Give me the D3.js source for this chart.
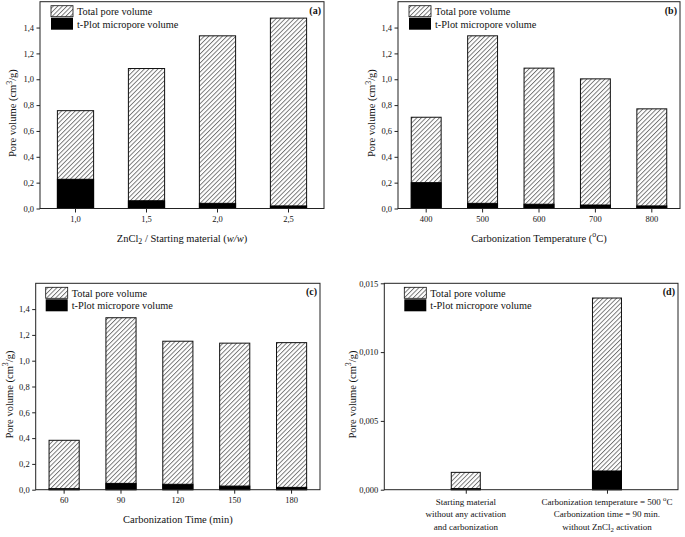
<!DOCTYPE html>
<html><head><meta charset="utf-8">
<script src="https://cdn.jsdelivr.net/npm/d3@7"></script>
<style>
body{margin:0;background:#fff;}
svg text{font-family:"Liberation Serif","Times New Roman",serif;fill:#111;}
</style></head>
<body>
<svg id="chart" width="685" height="537"></svg>
<script>
// ---------- DATA ----------
const seriesNames = ["Total pore volume", "t-Plot micropore volume"];

const catsA = ["1,0", "1,5", "2,0", "2,5"];
const totalA = [0.757, 1.083, 1.336, 1.473];
const microA = [0.226, 0.060, 0.040, 0.020];

const catsB = ["400", "500", "600", "700", "800"];
const totalB = [0.706, 1.336, 1.086, 1.003, 0.771];
const microB = [0.200, 0.040, 0.033, 0.027, 0.020];

const catsC = ["60", "90", "120", "150", "180"];
const totalC = [0.383, 1.333, 1.151, 1.136, 1.140];
const microC = [0.008, 0.049, 0.042, 0.028, 0.018];

const catsD = [
  ["Starting material", "without any activation", "and carbonization"],
  ["Carbonization temperature = 500 ^{o}C", "Carbonization time = 90 min.", "without ZnCl_{2} activation"]
];
const totalD = [0.00126, 0.01393];
const microD = [0.00008, 0.00136];

const yTicksMain = [0, 0.2, 0.4, 0.6, 0.8, 1.0, 1.2, 1.4];
const yTicksD = [0, 0.005, 0.010, 0.015];

const yTitle = "Pore volume (cm^{3}/g)";
const xTitleA = "ZnCl_{2} / Starting material (*{w/w})";
const xTitleB = "Carbonization Temperature (^{o}C)";
const xTitleC = "Carbonization Time (min)";

// ---------- RENDER ----------
const svg = d3.select("#chart");
const defs = svg.append("defs");
const pat = defs.append("pattern").attr("id", "hatch")
  .attr("patternUnits", "userSpaceOnUse").attr("width", 3.2).attr("height", 3.2)
  .attr("patternTransform", "rotate(45)");
pat.append("rect").attr("width", 3.2).attr("height", 3.2).attr("fill", "#fff");
pat.append("line").attr("x1", 0.5).attr("y1", 0).attr("x2", 0.5).attr("y2", 3.2)
  .attr("stroke", "#444").attr("stroke-width", 0.7);

// markup: ^{sup} _{sub} *{italic}
function richText(sel, str, size) {
  const re = /(\^\{[^}]*\}|_\{[^}]*\}|\*\{[^}]*\})/;
  const parts = str.split(re).filter(s => s.length);
  let shift = 0;
  parts.forEach(p => {
    const t = sel.append("tspan");
    let target = 0, txt = p, fs = size, it = false;
    if (p.startsWith("^{")) { txt = p.slice(2, -1); target = -size * 0.42; fs = size * 0.75; }
    else if (p.startsWith("_{")) { txt = p.slice(2, -1); target = size * 0.25; fs = size * 0.75; }
    else if (p.startsWith("*{")) { txt = p.slice(2, -1); it = true; }
    t.attr("dy", target - shift).attr("font-size", fs).text(txt);
    if (it) t.attr("font-style", "italic");
    shift = target;
  });
}

function panel(cfg) {
  const g = svg.append("g");
  const {x0, x1, y0, y1} = cfg.box;
  const y = d3.scaleLinear().domain(cfg.yDomain).range([y1, y0]);
  let xc, bw;
  if (cfg.band) {
    const x = d3.scaleBand().domain(d3.range(cfg.cats.length)).range([x0, x1])
      .paddingInner(cfg.pad).paddingOuter(cfg.pad / 2);
    xc = i => x(i) + x.bandwidth() / 2; bw = x.bandwidth();
    cfg.xScale = x;
  } else {
    const x = d3.scaleLinear().domain(cfg.xDomain).range([x0, x1]);
    xc = i => x(i); bw = cfg.barW;
    cfg.xScale = x;
  }
  // bars
  const idx = d3.range(cfg.cats.length);
  g.selectAll(".tot").data(idx).join("rect")
    .attr("x", i => xc(i) - bw / 2).attr("width", bw)
    .attr("y", i => y(cfg.total[i])).attr("height", i => y(0) - y(cfg.total[i]))
    .attr("fill", "url(#hatch)").attr("stroke", "#111").attr("stroke-width", 1);
  g.selectAll(".mic").data(idx).join("rect")
    .attr("x", i => xc(i) - bw / 2).attr("width", bw)
    .attr("y", i => y(cfg.micro[i])).attr("height", i => y(0) - y(cfg.micro[i]))
    .attr("fill", "#000").attr("stroke", "#000").attr("stroke-width", 1);
  // frame
  g.append("rect").attr("x", x0).attr("y", y0).attr("width", x1 - x0).attr("height", y1 - y0)
    .attr("fill", "none").attr("stroke", "#222").attr("stroke-width", 1);
  // y axis
  const ya = g.append("g").attr("transform", `translate(${x0},0)`)
    .call(d3.axisLeft(y).tickValues(cfg.yTicks).tickSize(3.5).tickPadding(2.5)
      .tickFormat(d => d3.format(cfg.yFmt)(d).replace(".", ",")));
  ya.select(".domain").remove();
  ya.selectAll("text").attr("font-size", 8.5).attr("font-family", "Liberation Serif").attr("fill", "#111");
  ya.selectAll("line").attr("stroke", "#222");
  // x axis ticks
  const xa = g.append("g").attr("transform", `translate(0,${y1})`);
  if (cfg.band) {
    xa.call(d3.axisBottom(cfg.xScale).tickSize(4).tickPadding(3.5).tickFormat(i => cfg.cats[i]))
      .attr("transform", `translate(0,${y1})`);
    xa.selectAll("text").attr("font-size", 8.5).attr("font-family", "Liberation Serif").attr("fill", "#111");
  } else {
    xa.call(d3.axisBottom(cfg.xScale).tickValues(idx).tickSize(4).tickFormat(""));
    idx.forEach(i => {
      cfg.cats[i].forEach((line, k) => {
        const t = g.append("text").attr("x", xc(i)).attr("y", y1 + 15 + k * 12.5)
          .attr("text-anchor", "middle").attr("font-size", 9);
        richText(t, line, 9);
      });
    });
  }
  xa.select(".domain").remove();
  xa.selectAll("line").attr("stroke", "#222");
  // titles
  const yt = g.append("text").attr("text-anchor", "middle").attr("font-size", 10.5)
    .attr("transform", `translate(${x0 - cfg.yTitleOff},${(y0 + y1) / 2 + 8}) rotate(-90)`);
  richText(yt, yTitle, 10.5);
  if (cfg.xTitle) {
    const xt = g.append("text").attr("text-anchor", "middle").attr("font-size", 10.5)
      .attr("x", (x0 + x1) / 2).attr("y", y1 + 33);
    richText(xt, cfg.xTitle, 10.5);
  }
  // panel label
  g.append("text").attr("x", x1 - 3).attr("y", y0 + 12).attr("text-anchor", "end")
    .attr("font-size", 10).attr("font-weight", "bold").text(cfg.label);
  // legend
  const lx = x0 + cfg.legOff, ly = y0 + 4;
  const lg = g.append("g");
  lg.append("rect").attr("x", lx).attr("y", ly).attr("width", 22).attr("height", 11)
    .attr("fill", "url(#hatch)").attr("stroke", "#111").attr("stroke-width", 0.8);
  lg.append("rect").attr("x", lx).attr("y", ly + 12).attr("width", 22).attr("height", 12)
    .attr("fill", "#000");
  lg.append("text").attr("x", lx + 26).attr("y", ly + 9.5).attr("font-size", 10.3).text(seriesNames[0]);
  lg.append("text").attr("x", lx + 26).attr("y", ly + 22).attr("font-size", 10.3).text(seriesNames[1]);
}

panel({box: {x0: 40, x1: 324, y0: 1.7, y1: 208.5}, band: true, pad: 0.49, cats: catsA, total: totalA, micro: microA,
  yDomain: [0, 1.6], yTicks: yTicksMain, yFmt: ".1f", xTitle: xTitleA, label: "(a)", legOff: 11, yTitleOff: 24});
panel({box: {x0: 398, x1: 680, y0: 1.7, y1: 208.5}, band: true, pad: 0.47, cats: catsB, total: totalB, micro: microB,
  yDomain: [0, 1.6], yTicks: yTicksMain, yFmt: ".1f", xTitle: xTitleB, label: "(b)", legOff: 11, yTitleOff: 23});
panel({box: {x0: 35.7, x1: 320, y0: 283.3, y1: 489.7}, band: true, pad: 0.47, cats: catsC, total: totalC, micro: microC,
  yDomain: [0, 1.6], yTicks: yTicksMain, yFmt: ".1f", xTitle: xTitleC, label: "(c)", legOff: 10, yTitleOff: 23});
panel({box: {x0: 384.3, x1: 678, y0: 283.3, y1: 489.7}, band: false, xDomain: [-0.577, 1.503], barW: 29,
  cats: catsD, total: totalD, micro: microD,
  yDomain: [0, 0.015], yTicks: yTicksD, yFmt: ".3f", xTitle: null, label: "(d)", legOff: 20, yTitleOff: 28.5});
</script>
</body></html>
